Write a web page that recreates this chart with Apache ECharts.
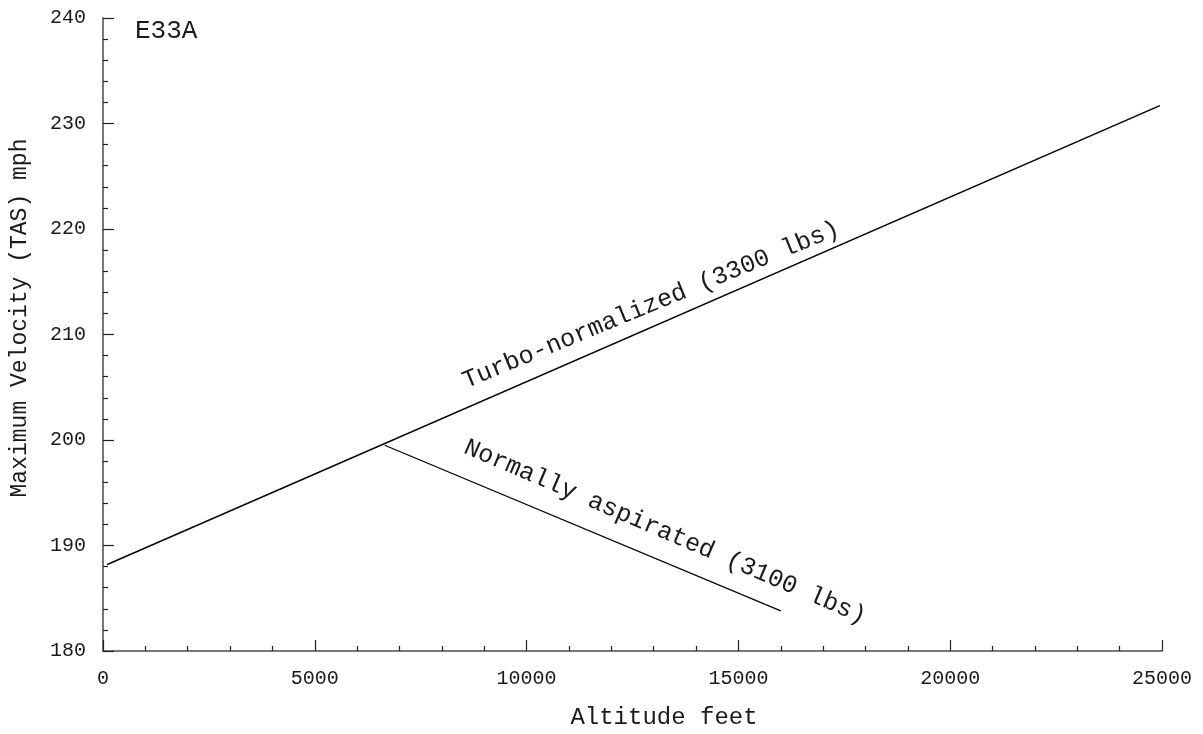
<!DOCTYPE html>
<html>
<head>
<meta charset="utf-8">
<title>E33A Maximum Velocity vs Altitude</title>
<script src="https://cdn.jsdelivr.net/npm/echarts@6/dist/echarts.min.js"></script>
<style>
  html, body { margin: 0; padding: 0; background: #fff; }
  #chart { width: 1203px; height: 734px; }
</style>
</head>
<body>
<div id="chart"></div>
<script>
// Aircraft and curve values (altitude in feet, true airspeed in mph)
const modelName = 'E33A';
const turboAltitude = [100, 24950];
const turboSpeed = [188.2, 231.7];
const normalAltitude = [6650, 16000];
const normalSpeed = [199.5, 183.8];
const turboLabel = 'Turbo-normalized (3300 lbs)';
const normalLabel = 'Normally aspirated (3100 lbs)';
const xTitle = 'Altitude feet';
const yTitle = 'Maximum Velocity (TAS) mph';

const FONT = '"Liberation Mono", "Courier New", monospace';
const INK = '#1a1a1a';

const chart = echarts.init(document.getElementById('chart'), null, { renderer: 'canvas' });

function pairs(xs, ys) { return xs.map((x, i) => [x, ys[i]]); }

// ticks point into the plot area
const axisCommon = {
  axisLine: { show: true, lineStyle: { color: '#777', width: 2 } },
  axisTick: { show: true, inside: true, length: 11, lineStyle: { color: '#222', width: 1.2 } },
  minorTick: { show: true, splitNumber: 5, length: 5, lineStyle: { color: '#222', width: 1.2 } },
  splitLine: { show: false },
  axisLabel: { fontFamily: FONT, fontSize: 20, color: INK, formatter: v => String(v) }
};

chart.setOption({
  backgroundColor: '#ffffff',
  animation: false,
  grid: { left: 103, right: 41, top: 18, bottom: 83, containLabel: false },
  xAxis: Object.assign({}, axisCommon, {
    type: 'value', min: 0, max: 25000, interval: 5000,
    axisLabel: Object.assign({}, axisCommon.axisLabel, { margin: 18 })
  }),
  yAxis: Object.assign({}, axisCommon, {
    type: 'value', min: 180, max: 240, interval: 10,
    axisLabel: Object.assign({}, axisCommon.axisLabel, { margin: 17 })
  }),
  series: [
    {
      name: turboLabel, type: 'line', data: pairs(turboAltitude, turboSpeed),
      showSymbol: false, silent: true,
      lineStyle: { color: '#000', width: 1.5 }
    },
    {
      name: normalLabel, type: 'line', data: pairs(normalAltitude, normalSpeed),
      showSymbol: false, silent: true,
      lineStyle: { color: '#000', width: 1.2 }
    }
  ],
  graphic: [
    { type: 'text', left: 135, top: 18, style: { text: modelName, font: '26px ' + FONT, fill: INK } },
    { type: 'text', x: 664, y: 718, style: { text: xTitle, font: '24px ' + FONT, fill: INK, align: 'center', verticalAlign: 'middle' } },
    { type: 'text', x: 20, y: 318, rotation: Math.PI / 2, style: { text: yTitle, font: '23px ' + FONT, fill: INK, align: 'center', verticalAlign: 'middle' } },
    { type: 'text', x: 651, y: 305, rotation: 0.39, style: { text: turboLabel, font: '25px ' + FONT, fill: INK, align: 'center', verticalAlign: 'middle' } },
    { type: 'text', x: 665, y: 532, rotation: -0.405, style: { text: normalLabel, font: '25px ' + FONT, fill: INK, align: 'center', verticalAlign: 'middle' } }
  ]
});
</script>
</body>
</html>
